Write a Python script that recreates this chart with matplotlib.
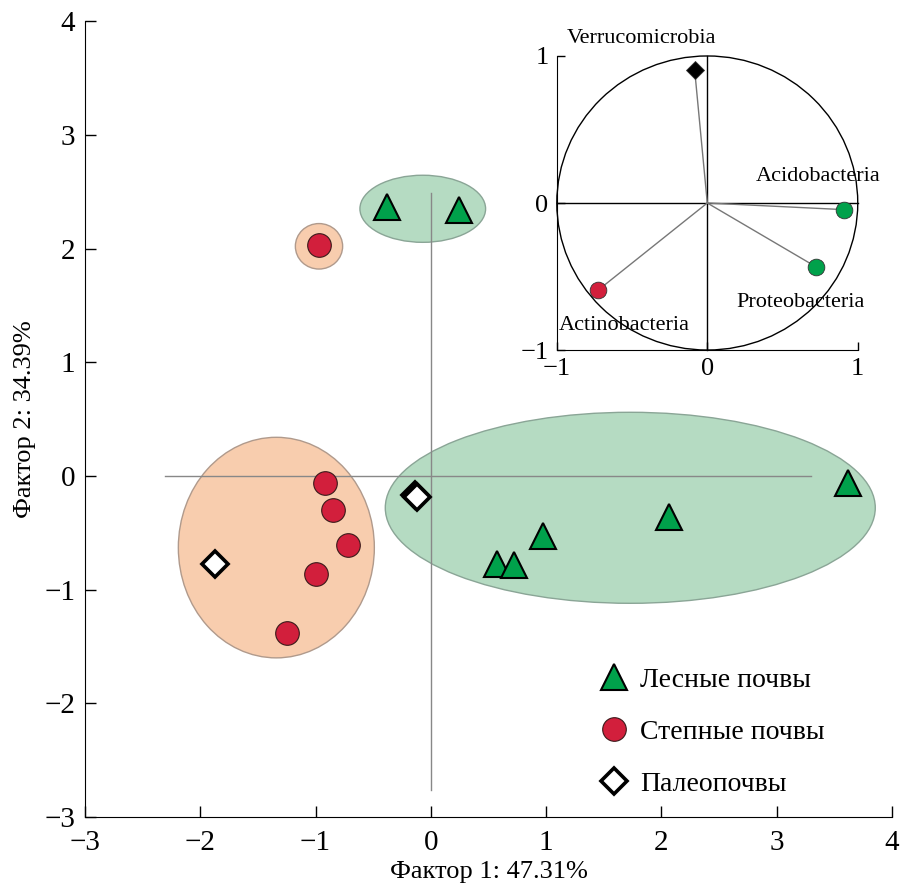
import matplotlib
matplotlib.use('Agg')
import matplotlib.pyplot as plt
from matplotlib.patches import Ellipse, Circle

plt.rcParams['font.family'] = ['Liberation Serif', 'DejaVu Serif']
plt.rcParams['axes.unicode_minus'] = True

# main ordination scores
forest_x = [-0.38, 0.24, 0.57, 0.72, 0.97, 2.07, 3.62]
forest_y = [2.37, 2.34, -0.77, -0.78, -0.53, -0.36, -0.06]
steppe_x = [-0.97, -0.92, -0.85, -0.72, -1.00, -1.25]
steppe_y = [2.03, -0.06, -0.30, -0.61, -0.86, -1.38]
paleo_x = [-1.87, -0.14, -0.12]
paleo_y = [-0.77, -0.165, -0.185]

# group ellipses: centre x, centre y, width, height
ell_orange = [(-1.34, -0.63, 1.70, 1.94), (-0.97, 2.02, 0.41, 0.40)]
ell_green = [(1.73, -0.28, 4.25, 1.68), (-0.07, 2.35, 1.09, 0.59)]

# correlation circle
taxa = ['Verrucomicrobia', 'Acidobacteria', 'Proteobacteria', 'Actinobacteria']
load_x = [-0.084, 0.906, 0.724, -0.727]
load_y = [0.906, -0.045, -0.435, -0.594]
lab_x = [-0.44, 0.74, 0.62, -0.55]
lab_y = [1.12, 0.18, -0.68, -0.83]

GREEN = '#00a14b'
RED = '#d21f3c'

fig = plt.figure(figsize=(9.01, 8.83), dpi=100)
ax = fig.add_axes([0.0943, 0.0747, 0.8957, 0.9013])

for cx, cy, w, h in ell_orange:
    ax.add_patch(Ellipse((cx, cy), w, h, facecolor='#f8cdae', edgecolor='#b09a8c', lw=1, zorder=1))
for cx, cy, w, h in ell_green:
    ax.add_patch(Ellipse((cx, cy), w, h, facecolor='#b5dbc2', edgecolor='#8aa596', lw=1, zorder=1))

ax.plot([-2.31, 3.30], [0, 0], color='#888888', lw=1, zorder=2)
ax.plot([0, 0], [-2.76, 2.49], color='#888888', lw=1, zorder=2)

ax.plot(forest_x, forest_y, '^', ms=18.5, mfc=GREEN, mec='black', mew=1.5, ls='none',
        zorder=4, label='Лесные почвы')
ax.plot(steppe_x, steppe_y, 'o', ms=17, mfc=RED, mec='#3a1a1a', mew=0.8, ls='none',
        zorder=4, label='Степные почвы')
ax.plot(paleo_x, paleo_y, 'D', ms=13, mfc='white', mec='black', mew=2.6, ls='none',
        zorder=5, label='Палеопочвы')

ax.set_xlim(-3, 4)
ax.set_ylim(-3, 4)
ax.set_xticks(range(-3, 5))
ax.set_yticks(range(-3, 5))
ax.spines['top'].set_visible(False)
ax.spines['right'].set_visible(False)
ax.tick_params(direction='in', length=8, width=1, labelsize=21)
ax.tick_params(axis='x', pad=9)
ax.tick_params(axis='y', pad=7)
ax.set_xlabel('Фактор 1: 47.31%', fontsize=19, labelpad=4)
ax.set_ylabel('Фактор 2: 34.39%', fontsize=19, labelpad=6)

ax.legend(loc='upper left', bbox_to_anchor=(0.638, 0.188), frameon=False, fontsize=20,
          handlelength=1.0, handletextpad=0.45, labelspacing=0.95, borderpad=0, borderaxespad=0)

# inset: correlation circle
ins = fig.add_axes([0.618, 0.6036, 0.334, 0.333])
ins.add_patch(Circle((0, 0), 1, facecolor='none', edgecolor='black', lw=1))
ins.plot([-1, 1], [0, 0], color='black', lw=1)
ins.plot([0, 0], [-1, 1], color='black', lw=1)
for x, y in zip(load_x, load_y):
    ins.plot([0, x], [0, y], color='#777777', lw=1)
colors = ['black', GREEN, GREEN, RED]
markers = ['D', 'o', 'o', 'o']
sizes = [9, 12, 12, 12]
for x, y, c, m, s in zip(load_x, load_y, colors, markers, sizes):
    ins.plot(x, y, m, ms=s, mfc=c, mec='#333333', mew=0.6, zorder=4)
for t, x, y in zip(taxa, lab_x, lab_y):
    ins.text(x, y, t, fontsize=16, ha='center', va='center')
ins.set_xlim(-1, 1)
ins.set_ylim(-1, 1)
ins.set_xticks([-1, 0, 1])
ins.set_yticks([-1, 0, 1])
ins.patch.set_alpha(0)
ins.spines['top'].set_visible(False)
ins.spines['right'].set_visible(False)
ins.tick_params(direction='in', length=6, width=1, labelsize=19, pad=6)
for ch in ins.get_children():
    ch.set_clip_on(False)

fig.savefig('out.png', dpi=100)
